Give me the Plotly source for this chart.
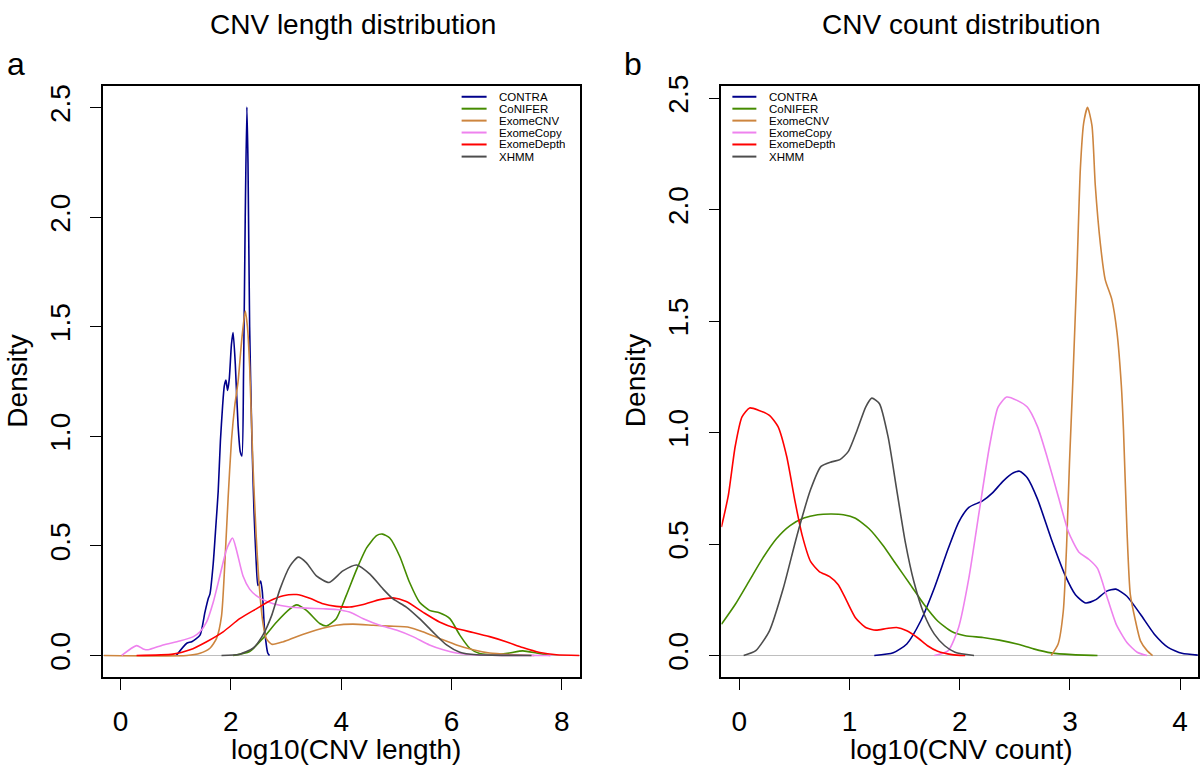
import plotly.graph_objects as go

W, H = 1200, 773
FONT = "Liberation Sans, Arial, Helvetica, sans-serif"

methods = ["CONTRA", "CoNIFER", "ExomeCNV", "ExomeCopy", "ExomeDepth", "XHMM"]
colors = ["#00008B", "#458B00", "#CD853F", "#EE82EE", "#FF0000", "#4D4D4D"]

# ---------- Panel a: log10(CNV length) densities ----------
len_contra_x = [1.01, 1.2, 1.29, 1.44, 1.53, 1.59, 1.62, 1.68, 1.73, 1.77, 1.81, 1.85, 1.88, 1.91, 1.94, 1.97,
                2.01, 2.04, 2.08, 2.13, 2.17, 2.2, 2.23, 2.26, 2.29, 2.31, 2.34, 2.38, 2.42, 2.46, 2.49, 2.52,
                2.54, 2.57, 2.61, 2.67, 2.70]
len_contra_y = [0.0, 0.056, 0.063, 0.093, 0.198, 0.26, 0.28, 0.42, 0.60, 0.75, 0.98, 1.14, 1.23, 1.257, 1.21, 1.26,
                1.42, 1.474, 1.33, 1.05, 0.93, 0.911, 1.3, 2.0, 2.503, 2.25, 1.5, 1.0, 0.65, 0.42, 0.32, 0.33,
                0.34, 0.29, 0.12, 0.01, 0.0]

len_conifer_x = [2.04, 2.34, 2.58, 2.83, 3.07, 3.19, 3.37, 3.61, 3.74, 3.91, 4.09, 4.28, 4.46, 4.64, 4.75, 4.88,
                 5.06, 5.24, 5.42, 5.60, 5.78, 5.97, 6.15, 6.33, 6.51, 6.81, 7.05, 7.29, 7.54, 7.78]
len_conifer_y = [0.0, 0.018, 0.078, 0.153, 0.213, 0.231, 0.206, 0.146, 0.135, 0.168, 0.273, 0.393, 0.491, 0.547, 0.554, 0.536,
                 0.453, 0.333, 0.243, 0.206, 0.195, 0.168, 0.093, 0.033, 0.009, 0.003, 0.011, 0.021, 0.011, 0.0]

len_exomecnv_x = [-0.3, 1.2, 1.44, 1.62, 1.74, 1.83, 1.89, 1.95, 2.01, 2.07, 2.13, 2.2, 2.26, 2.30, 2.34, 2.40,
                  2.46, 2.52, 2.58, 2.64, 2.74, 2.95, 3.19, 3.55, 3.91, 4.21, 4.58, 4.88, 5.24, 5.48, 5.78, 6.09,
                  6.39, 6.69, 7.17, 7.5]
len_exomecnv_y = [0.0, 0.0, 0.01, 0.033, 0.078, 0.18, 0.42, 0.72, 0.98, 1.14, 1.25, 1.45, 1.572, 1.5, 1.32, 0.87,
                  0.54, 0.30, 0.15, 0.078, 0.051, 0.063, 0.086, 0.116, 0.138, 0.143, 0.138, 0.134, 0.128, 0.108, 0.078, 0.048,
                  0.026, 0.011, 0.003, 0.0]

len_exomecopy_x = [0.02, 0.29, 0.41, 0.5, 0.77, 1.07, 1.32, 1.44, 1.56, 1.68, 1.80, 1.92, 2.03, 2.10, 2.22, 2.34,
                   2.46, 2.58, 2.77, 3.07, 3.37, 3.67, 3.91, 4.15, 4.40, 4.70, 5.0, 5.30, 5.60, 5.85, 6.09, 6.39, 7.0, 7.8]
len_exomecopy_y = [0.0, 0.045, 0.03, 0.026, 0.048, 0.066, 0.086, 0.108, 0.153, 0.243, 0.363, 0.483, 0.536, 0.483, 0.363, 0.303,
                   0.273, 0.255, 0.236, 0.221, 0.216, 0.213, 0.21, 0.198, 0.168, 0.138, 0.116, 0.086, 0.048, 0.026, 0.011, 0.003, 0.0005, 0.0]

len_exomedepth_x = [0.29, 0.95, 1.26, 1.56, 1.86, 2.16, 2.46, 2.71, 2.95, 3.19, 3.43, 3.67, 3.91, 4.15, 4.40, 4.70,
                    4.94, 5.18, 5.48, 5.78, 6.09, 6.39, 6.69, 6.99, 7.29, 7.6, 7.9, 8.32]
len_exomedepth_y = [0.0, 0.006, 0.026, 0.063, 0.108, 0.168, 0.213, 0.25, 0.273, 0.278, 0.261, 0.236, 0.224, 0.221, 0.233, 0.255,
                    0.263, 0.246, 0.198, 0.153, 0.123, 0.105, 0.086, 0.063, 0.036, 0.0135, 0.003, 0.0]

len_xhmm_x = [1.83, 2.16, 2.40, 2.58, 2.74, 2.89, 3.07, 3.22, 3.37, 3.55, 3.78, 4.03, 4.28, 4.52, 4.76, 4.94,
              5.18, 5.42, 5.66, 5.91, 6.15, 6.45, 7.0, 7.45]
len_xhmm_y = [0.0, 0.006, 0.033, 0.093, 0.183, 0.303, 0.408, 0.449, 0.423, 0.363, 0.333, 0.386, 0.413, 0.371, 0.303, 0.258,
              0.221, 0.168, 0.108, 0.048, 0.015, 0.003, 0.0005, 0.0]

# ---------- Panel b: log10(CNV count) densities ----------
cnt_contra_x = [1.225, 1.397, 1.52, 1.646, 1.77, 1.896, 1.99, 2.083, 2.207, 2.30, 2.394, 2.488, 2.544, 2.613, 2.706, 2.83,
                2.955, 3.05, 3.143, 3.236, 3.33, 3.417, 3.517, 3.64, 3.766, 3.89, 4.016, 4.16]
cnt_contra_y = [0.0, 0.012, 0.052, 0.155, 0.303, 0.48, 0.598, 0.665, 0.694, 0.731, 0.783, 0.82, 0.827, 0.798, 0.702, 0.524,
                0.362, 0.273, 0.236, 0.251, 0.288, 0.298, 0.266, 0.185, 0.096, 0.037, 0.010, 0.002]

cnt_conifer_x = [-0.162, -0.037, 0.087, 0.212, 0.337, 0.461, 0.586, 0.711, 0.836, 0.945, 1.054, 1.178, 1.303, 1.428, 1.553, 1.677,
                 1.80, 1.927, 2.05, 2.21, 2.36, 2.52, 2.67, 2.83, 3.02, 3.25]
cnt_conifer_y = [0.14, 0.229, 0.332, 0.436, 0.524, 0.583, 0.617, 0.632, 0.635, 0.632, 0.616, 0.569, 0.495, 0.406, 0.318, 0.229,
                 0.155, 0.108, 0.089, 0.081, 0.069, 0.052, 0.030, 0.012, 0.004, 0.0]

cnt_exomecnv_x = [2.83, 2.893, 2.94, 2.97, 2.996, 3.025, 3.065, 3.095, 3.125, 3.16, 3.2, 3.23, 3.276, 3.32, 3.38, 3.427,
                  3.466, 3.486, 3.517, 3.548, 3.595, 3.64, 3.70, 3.75]
cnt_exomecnv_y = [0.0, 0.052, 0.2, 0.495, 0.864, 1.215, 1.745, 2.187, 2.39, 2.46, 2.378, 2.11, 1.848, 1.687, 1.598, 1.45,
                  1.215, 1.012, 0.569, 0.273, 0.155, 0.066, 0.022, 0.0]

cnt_exomecopy_x = [1.77, 1.896, 1.99, 2.083, 2.176, 2.27, 2.348, 2.426, 2.52, 2.613, 2.706, 2.80, 2.893, 2.987, 3.08, 3.174,
                   3.25, 3.33, 3.42, 3.517, 3.61, 3.70]
cnt_exomecopy_y = [0.0, 0.022, 0.126, 0.347, 0.643, 0.938, 1.115, 1.16, 1.145, 1.115, 1.027, 0.879, 0.716, 0.554, 0.465, 0.431,
                   0.391, 0.273, 0.14, 0.059, 0.015, 0.0]

cnt_exomedepth_x = [-0.162, -0.1, -0.037, 0.025, 0.094, 0.18, 0.274, 0.352, 0.43, 0.508, 0.571, 0.648, 0.726, 0.82, 0.898, 0.976,
                    1.054, 1.147, 1.24, 1.334, 1.428, 1.52, 1.615, 1.708, 1.80, 1.93, 2.05]
cnt_exomedepth_y = [0.576, 0.716, 0.938, 1.071, 1.111, 1.10, 1.078, 1.027, 0.894, 0.687, 0.539, 0.421, 0.377, 0.354, 0.318, 0.244,
                    0.17, 0.126, 0.114, 0.121, 0.126, 0.111, 0.081, 0.044, 0.019, 0.004, 0.0]

cnt_xhmm_x = [0.04, 0.15, 0.274, 0.40, 0.524, 0.648, 0.742, 0.836, 0.913, 0.99, 1.07, 1.147, 1.203, 1.272, 1.35, 1.428,
              1.506, 1.584, 1.677, 1.77, 1.864, 1.958, 2.13]
cnt_xhmm_y = [0.0, 0.022, 0.111, 0.303, 0.539, 0.746, 0.849, 0.869, 0.879, 0.916, 1.012, 1.115, 1.155, 1.13, 0.982, 0.746,
              0.51, 0.332, 0.185, 0.096, 0.044, 0.015, 0.0]

len_x = [len_contra_x, len_conifer_x, len_exomecnv_x, len_exomecopy_x, len_exomedepth_x, len_xhmm_x]
len_y = [len_contra_y, len_conifer_y, len_exomecnv_y, len_exomecopy_y, len_exomedepth_y, len_xhmm_y]
cnt_x = [cnt_contra_x, cnt_conifer_x, cnt_exomecnv_x, cnt_exomecopy_x, cnt_exomedepth_x, cnt_xhmm_x]
cnt_y = [cnt_contra_y, cnt_conifer_y, cnt_exomecnv_y, cnt_exomecopy_y, cnt_exomedepth_y, cnt_xhmm_y]

left_xticks = [0, 2, 4, 6, 8]
right_xticks = [0, 1, 2, 3, 4]
yticks = [0.0, 0.5, 1.0, 1.5, 2.0, 2.5]
ytick_text = ["0.0", "0.5", "1.0", "1.5", "2.0", "2.5"]


def px(x):
    return x / W


def py(y):
    return 1 - y / H


fig = go.Figure()
for i, m in enumerate(methods):
    fig.add_trace(go.Scatter(x=len_x[i], y=len_y[i], mode="lines", name=m, showlegend=False,
                             line=dict(color=colors[i], width=1.6, shape="spline", smoothing=0.6),
                             xaxis="x", yaxis="y", cliponaxis=True))
for i, m in enumerate(methods):
    fig.add_trace(go.Scatter(x=cnt_x[i], y=cnt_y[i], mode="lines", name=m, showlegend=False,
                             line=dict(color=colors[i], width=1.6, shape="spline", smoothing=0.6),
                             xaxis="x2", yaxis="y2", cliponaxis=True))

box_top, box_bot = 76, 676
axis_common = dict(showline=True, mirror=True, linecolor="black", linewidth=1.5, ticks="outside",
                   ticklen=11, tickwidth=1.3, tickcolor="black", showgrid=False,
                   tickfont=dict(family=FONT, size=28, color="black"))

fig.update_layout(
    width=W, height=H, margin=dict(l=0, r=0, t=0, b=0),
    paper_bgcolor="white", plot_bgcolor="white", showlegend=False,
    xaxis=dict(domain=[px(103), px(580)], range=[-0.32, 8.32], tickvals=left_xticks, zeroline=False,
               anchor="y", ticklabelstandoff=7, **axis_common),
    yaxis=dict(domain=[py(box_bot), py(box_top)], range=[-0.1, 2.6], tickvals=yticks, ticktext=ytick_text,
               tickangle=-90, zeroline=True, zerolinecolor="#BEBEBE", zerolinewidth=1.2, anchor="x",
               ticklabelstandoff=9, **axis_common),
    xaxis2=dict(domain=[px(722), px(1199)], range=[-0.162, 4.162], tickvals=right_xticks, zeroline=False,
                anchor="y2", ticklabelstandoff=7, **axis_common),
    yaxis2=dict(domain=[py(box_bot), py(box_top)], range=[-0.098, 2.556], tickvals=yticks, ticktext=ytick_text,
                tickangle=-90, zeroline=True, zerolinecolor="#BEBEBE", zerolinewidth=1.2, anchor="x2",
                ticklabelstandoff=9, **axis_common),
)

annots = []
shapes = []
big = dict(family=FONT, size=28, color="black")
annots.append(dict(text="CNV length distribution", x=px(353), y=py(14), xref="paper", yref="paper",
                   showarrow=False, xanchor="center", yanchor="middle", font=big))
annots.append(dict(text="CNV count distribution", x=px(962), y=py(14), xref="paper", yref="paper",
                   showarrow=False, xanchor="center", yanchor="middle", font=big))
annots.append(dict(text="a", x=px(16), y=py(54), xref="paper", yref="paper",
                   showarrow=False, xanchor="center", yanchor="middle", font=dict(family=FONT, size=32, color="black")))
annots.append(dict(text="b", x=px(634), y=py(54), xref="paper", yref="paper",
                   showarrow=False, xanchor="center", yanchor="middle", font=dict(family=FONT, size=32, color="black")))
annots.append(dict(text="log10(CNV length)", x=px(346), y=py(749), xref="paper", yref="paper",
                   showarrow=False, xanchor="center", yanchor="middle", font=big))
annots.append(dict(text="log10(CNV count)", x=px(962), y=py(749), xref="paper", yref="paper",
                   showarrow=False, xanchor="center", yanchor="middle", font=big))
annots.append(dict(text="Density", x=px(18), y=py(375), xref="paper", yref="paper", textangle=-90,
                   showarrow=False, xanchor="center", yanchor="middle", font=big))
annots.append(dict(text="Density", x=px(636), y=py(375), xref="paper", yref="paper", textangle=-90,
                   showarrow=False, xanchor="center", yanchor="middle", font=big))

leg_font = dict(family=FONT, size=11.5, color="black")
row_y = [87.0, 99.1, 111.2, 123.3, 135.4, 147.7]
for (lx0, lx1, tx) in [(462, 487, 497), (733, 757, 768)]:
    for i, m in enumerate(methods):
        shapes.append(dict(type="line", xref="paper", yref="paper", x0=px(lx0), x1=px(lx1),
                           y0=py(row_y[i]), y1=py(row_y[i]), line=dict(color=colors[i], width=2)))
        annots.append(dict(text=m, x=px(tx), y=py(row_y[i]), xref="paper", yref="paper", height=11.5,
                           showarrow=False, xanchor="left", yanchor="middle", valign="middle", font=leg_font))

fig.update_layout(annotations=annots, shapes=shapes)
fig.write_html("out.html", config={"displayModeBar": False},
               post_script="document.body.style.margin='0';document.body.style.padding='0';"
                           "document.body.style.overflow='hidden';")
